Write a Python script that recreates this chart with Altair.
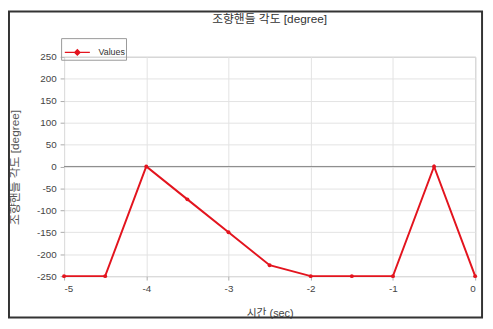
import altair as alt
import pandas as pd

times = [-5, -4.5, -4, -3.5, -3, -2.5, -2, -1.5, -1, -0.5, 0]
angles = [-250, -250, 0, -75, -150, -225, -250, -250, -250, 0, -250]
series = ["Values"] * len(times)
x_ticks = [-5, -4, -3, -2, -1, 0]
y_ticks = [-250, -200, -150, -100, -50, 0, 50, 100, 150, 200, 250]

df = pd.DataFrame({"t": times, "a": angles, "s": series})
FONT = "Liberation Sans, Noto Sans CJK KR"
RED = "#e3141e"

xs = alt.Scale(domain=[-5, 0], nice=False, zero=False)
ys = alt.Scale(domain=[-250, 250], nice=False)

y_axis = alt.Axis(values=y_ticks, tickCount=11, title="조향핸들 각도 [degree]",
                  titleX=-50, titleY=112, titleAngle=270, titleAlign="center",
                  titleBaseline="middle", titleFontSize=12, titleFontWeight="normal",
                  titleColor="#555", labelOverlap=False,
                  labelExpr="replace(datum.label, '−', '-')")
x_axis = alt.Axis(values=x_ticks, tickCount=6, title="시간 (sec)", format="d",
                  titlePadding=14, titleFontSize=11, titleFontWeight="normal",
                  labelOverlap=False, labelExpr="replace(datum.label, '−', '-')")

line = alt.Chart(df).mark_line(strokeWidth=2, point=alt.OverlayMarkDef(size=16, filled=True, color="#b00010")).encode(
    x=alt.X("t:Q", scale=xs, axis=x_axis),
    y=alt.Y("a:Q", scale=ys, axis=y_axis),
    color=alt.Color("s:N", scale=alt.Scale(range=[RED]),
                    legend=alt.Legend(title=None, orient="none", legendX=-3, legendY=-19,
                                      symbolType="M-1,0H1M0,-0.2L0.2,0L0,0.2L-0.2,0Z",
                                      symbolSize=650, symbolStrokeWidth=1.5, symbolStrokeColor=RED,
                                      symbolFillColor=RED, symbolOffset=2,
                                      strokeColor="#999", padding=1, labelFontSize=9,
                                      labelColor="#333", rowPadding=0, labelOffset=8)),
)

zero = alt.Chart(pd.DataFrame({"a": [0]})).mark_rule(color="#888", strokeWidth=1).encode(
    y=alt.Y("a:Q", scale=ys, axis=y_axis)
)

frame = alt.Chart(pd.DataFrame({"z": [0]})).mark_rect(fill=None, stroke="#333", strokeWidth=2).encode(
    x=alt.value(-56), x2=alt.value(425), y=alt.value(-46), y2=alt.value(265)
)

chart = alt.layer(frame, zero, line).properties(
    width=418, height=223,
    autosize=alt.AutoSizeParams(type="none"),
    padding={"left": 57, "top": 47, "right": 10, "bottom": 43},
    title=alt.TitleParams("조향핸들 각도 [degree]", fontSize=12, fontWeight="normal",
                          color="#333", font=FONT, offset=0, dy=16, anchor="middle"),
).configure_view(stroke="#999", strokeWidth=1).configure_axis(
    labelFont=FONT, titleFont=FONT, labelFontSize=10, labelColor="#444", titleColor="#444",
    gridColor="#e2e2e2", domain=False, tickColor="#aaa", tickSize=4, labelPadding=4
).configure_legend(labelFont=FONT)

chart.save("out.html", embed_options={"renderer": "svg", "actions": False})
